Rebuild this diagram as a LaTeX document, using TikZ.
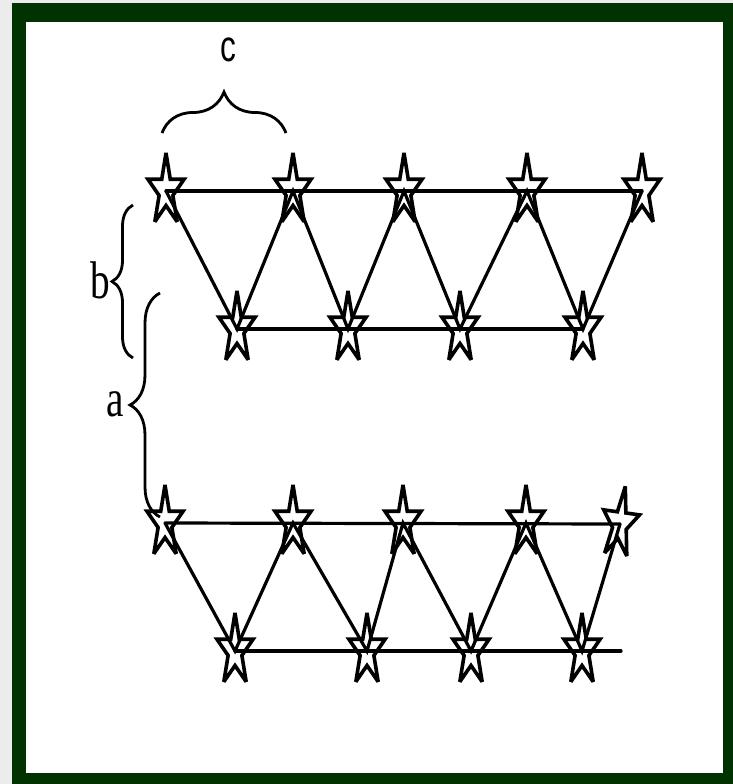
\documentclass[tikz,border=0pt]{standalone}
\usepackage{fontspec}
\usepackage{graphicx}
\newfontfamily\labsans{Liberation Sans}
\newfontfamily\labserif{Liberation Serif}
\usetikzlibrary{decorations.pathreplacing}
\definecolor{framegreen}{RGB}{0,51,0}
\definecolor{paper}{RGB}{236,236,236}
\begin{document}
\begin{tikzpicture}[x=1pt,y=-1pt,
  link/.style={draw=black, line width=3.2pt, line cap=round},
  starline/.style={draw=black, line width=3.6pt, line join=miter, miter limit=3},
  bracepath/.style={draw=black, line width=2.8pt, decorate},
  letter/.style={inner sep=0pt, text=black}]
% page, paper and frame
\fill[paper] (0,0) rectangle (733,784);
\fill[framegreen] (12,3) rectangle (733,784);
\fill[white] (26,22) rectangle (723,773);
\useasboundingbox (0,0) rectangle (733,784);

% upper group
\coordinate (t0) at (166,191);
\coordinate (t1) at (293,191);
\coordinate (t2) at (404,191);
\coordinate (t3) at (527,191);
\coordinate (t4) at (642,191);
\coordinate (b0) at (237,329);
\coordinate (b1) at (348,329);
\coordinate (b2) at (460,329);
\coordinate (b3) at (583,329);
% lower group
\coordinate (u0) at (165,523);
\coordinate (u1) at (293,523);
\coordinate (u2) at (403,523);
\coordinate (u3) at (526,523);
\coordinate (u4) at (620,524);
\coordinate (v0) at (235,651);
\coordinate (v1) at (367,651);
\coordinate (v2) at (471,651);
\coordinate (v3) at (582,651);
\coordinate (vend) at (621,651);

% connectors
\draw[link] (t0) -- (t4);
\draw[link] (b0) -- (b3);
\draw[link] (t0) -- (b0) -- (t1) -- (b1) -- (t2) -- (b2) -- (t3) -- (b3) -- (t4);
\draw[link] (u0) -- (u4);
\draw[link] (v0) -- (vend);
\draw[link] (u0) -- (v0) -- (u1) -- (v1) -- (u2) -- (v2) -- (u3) -- (v3) -- (u4);

% stars
\foreach \p in {t0,t1,t2,t3,t4,b0,b1,b2,b3,u0,u1,u2,u3,v0,v1,v2,v3}{
  \draw[starline, shift={(\p)}, xscale=0.5]
    (-90:38) -- (-54:14.5) -- (-18:38) -- (18:14.5) -- (54:38) -- (90:14.5)
    -- (126:38) -- (162:14.5) -- (198:38) -- (234:14.5) -- cycle;
}
\draw[starline, shift={(u4)}, rotate=-8, xscale=0.5]
    (-90:38) -- (-54:14.5) -- (-18:38) -- (18:14.5) -- (54:38) -- (90:14.5)
    -- (126:38) -- (162:14.5) -- (198:38) -- (234:14.5) -- cycle;

% braces
\coordinate (c1) at (162,133);
\coordinate (c2) at (286,133);
\coordinate (bb1) at (133,358);
\coordinate (bb2) at (133,205);
\coordinate (a1) at (160,517);
\coordinate (a2) at (160,293);
\draw[bracepath, decoration={brace, amplitude=41pt}] (c1) -- (c2);
\draw[bracepath, decoration={brace, amplitude=21pt}] (bb1) -- (bb2);
\draw[bracepath, decoration={brace, amplitude=30pt}] (a1) -- (a2);

% labels
\node[letter] (lc) at (228,50) {\scalebox{0.72}[1]{\labsans\fontsize{44}{44}\selectfont c}};
\node[letter] (lb) at (100,280) {\scalebox{0.74}[1]{\labserif\fontsize{53}{53}\selectfont b}};
\node[letter] (la) at (115,404) {\scalebox{0.74}[1]{\labserif\fontsize{53}{53}\selectfont a}};
\end{tikzpicture}
\end{document}
